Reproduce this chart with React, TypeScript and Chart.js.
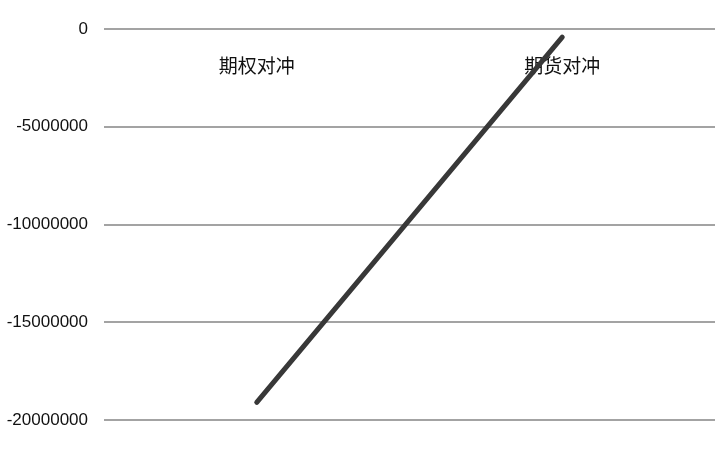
import React, { useEffect, useRef } from "react";
import { Chart, registerables } from "chart.js";

Chart.register(...registerables);

const categories: string[] = ["期权对冲", "期货对冲"];
const hedgeValues: number[] = [-19100000, -420000];
const yTicks: number[] = [0, -5000000, -10000000, -15000000, -20000000];

export default function App() {
  const ref = useRef<HTMLCanvasElement | null>(null);

  useEffect(() => {
    if (!ref.current) return;
    const chart = new Chart(ref.current, {
      type: "line",
      data: {
        labels: categories,
        datasets: [
          {
            data: hedgeValues,
            borderColor: "#383838",
            borderWidth: 5,
            borderCapStyle: "round",
            pointRadius: 0,
            pointHoverRadius: 0,
            tension: 0,
          },
        ],
      },
      options: {
        responsive: false,
        animation: false,
        devicePixelRatio: 1,
        layout: { padding: { top: 29, right: 5, bottom: 43, left: 0 } },
        plugins: { legend: { display: false }, tooltip: { enabled: false } },
        scales: {
          x: {
            type: "category",
            offset: true,
            position: { y: 0 },
            grid: { display: false, drawTicks: false },
            border: { display: false },
            ticks: {
              padding: 25,
              color: "#111111",
              font: { family: "'Noto Sans CJK SC', sans-serif", size: 19 },
              maxRotation: 0,
            },
            afterFit: (scale: any) => {
              scale.height = 0;
            },
          },
          y: {
            min: Math.min(...yTicks),
            max: Math.max(...yTicks),
            afterBuildTicks: (scale: any) => {
              scale.ticks = yTicks.map((v) => ({ value: v }));
            },
            grid: { color: "#a3a3a3", lineWidth: 2, drawTicks: false },
            border: { display: false },
            ticks: {
              padding: 16,
              color: "#111111",
              font: { family: "'Liberation Sans', Arial, sans-serif", size: 17 },
              callback: (v: any) => String(v),
            },
            afterFit: (scale: any) => {
              scale.width = 104;
            },
          },
        },
      },
    });
    return () => chart.destroy();
  }, []);

  return (
    <div style={{ position: "fixed", left: 0, top: 0, width: 720, height: 463, background: "#ffffff" }}>
      <canvas ref={ref} width={720} height={463} />
    </div>
  );
}
